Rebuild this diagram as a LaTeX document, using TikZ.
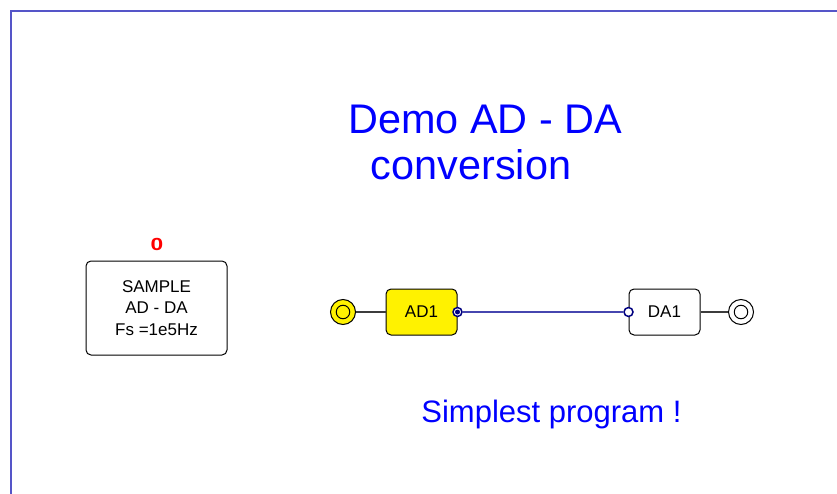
\documentclass[tikz,border=0pt]{standalone}
\usepackage{fontspec}
\setmainfont{Liberation Sans}
\newfontfamily\zerofont[FakeStretch=1.3]{Liberation Sans Bold}
\definecolor{framecol}{RGB}{85,85,200}
\definecolor{linkcol}{RGB}{70,70,175}
\definecolor{portcol}{RGB}{0,0,128}
\definecolor{titleblue}{RGB}{0,0,255}
\definecolor{wirecol}{RGB}{60,60,60}
\begin{document}
\begin{tikzpicture}[x=1pt,y=-1pt,
  blk/.style={draw=black, line width=1pt, rounded corners=5pt, inner sep=0pt,
    font=\fontsize{17}{21.5}\selectfont, align=center},
  term/.style={circle, draw=black, line width=1pt, inner sep=0pt, minimum size=25pt},
  termin/.style={circle, draw=black, line width=1pt, inner sep=0pt, minimum size=13.5pt},
  port/.style={circle, draw=portcol, fill=white, line width=1.5pt, inner sep=0pt, minimum size=9pt},
  portdot/.style={circle, fill=portcol, inner sep=0pt, minimum size=5pt},
  wire/.style={draw=wirecol, line width=1.1pt},
  link/.style={draw=linkcol, line width=1.1pt},
  bigtxt/.style={text=titleblue, font=\fontsize{41.4}{46}\selectfont, anchor=base, inner sep=0pt},
  midtxt/.style={text=titleblue, font=\fontsize{31}{36}\selectfont, anchor=base, inner sep=0pt}
]
\useasboundingbox (0,0) rectangle (837,494);
\draw[framecol, line width=1.5pt] (11,494) -- (11,11) -- (837,11);

% title
\node[bigtxt] (t1) at (485,134) {Demo AD - DA};
\node[bigtxt] (t2) at (471,180) {conversion};
\node[midtxt] (t3) at (551.5,422) {Simplest program !};

% sample block
\node[blk, minimum width=141pt, minimum height=94pt] (sample) at (156.5,308) {SAMPLE\\AD - DA\\Fs =1e5Hz};
\node[text=red, font=\zerofont\fontsize{17.5}{20}\selectfont, anchor=base, inner sep=0pt] (zero) at (157,250.5) {0};

% AD1 / DA1
\node[blk, fill=yellow, minimum width=71pt, minimum height=46pt] (ad) at (421.5,312) {AD1};
\node[blk, fill=white, minimum width=71pt, minimum height=46pt] (da) at (664.5,312) {DA1};

% terminals
\node[term, fill=yellow] (in) at (343,312) {};
\node[termin, fill=yellow] (inc) at (in.center) {};
\node[term, fill=white] (out) at (741,312) {};
\node[termin, fill=white] (outc) at (out.center) {};

% wires
\draw[wire] (in) -- (ad);
\draw[wire] (da) -- (out);

% ports
\node[port] (p1) at (ad.east) {};
\node[portdot] (p1d) at (p1.center) {};
\node[port] (p2) at (da.west) {};
\draw[link] (p1) -- (p2);
\end{tikzpicture}
\end{document}
